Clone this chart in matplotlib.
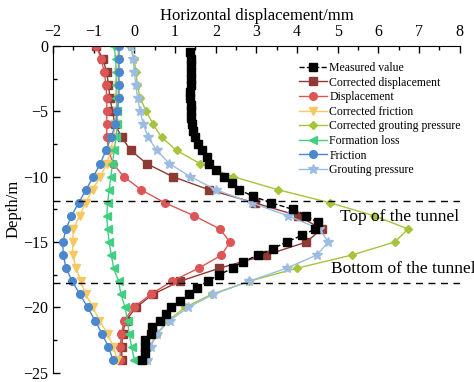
import numpy as np
import matplotlib.pyplot as plt
from matplotlib.ticker import MultipleLocator

plt.rcParams['font.family'] = ['Liberation Serif', 'DejaVu Serif']
plt.rcParams['mathtext.fontset'] = 'stix'

# measured profile, every 0.5 m
depthMeasured = np.arange(-0.5, -24.01, -0.5)
measured = [1.37, 1.39, 1.40, 1.39, 1.40, 1.39, 1.37, 1.37, 1.39, 1.40,
            1.40, 1.41, 1.44, 1.49, 1.57, 1.66, 1.79, 1.84, 2.01, 2.20,
            2.39, 2.58, 2.91, 3.37, 3.89, 4.22, 4.52, 4.45, 4.11, 3.74,
            3.41, 3.05, 2.66, 2.42, 2.08, 1.80, 1.55, 1.34, 1.12, 0.89,
            0.77, 0.63, 0.43, 0.41, 0.27, 0.25, 0.26, 0.18]

# calculated profiles, every 1 m
depth = np.arange(0, -24.01, -1)
correctedDisp = [-0.94, -0.78, -0.68, -0.64, -0.60, -0.54, -0.48, -0.31, -0.09, 0.30,
                 0.94, 1.83, 2.96, 4.03, 4.60, 4.23, 3.23, 2.09, 1.12, 0.45,
                 0.04, -0.21, -0.29, -0.31, -0.31]
displacement = [-0.94, -0.82, -0.74, -0.70, -0.68, -0.68, -0.68, -0.68, -0.63, -0.53,
                 -0.26, 0.16, 0.75, 1.47, 2.10, 2.35, 2.14, 1.58, 0.92, 0.40,
                 -0.02, -0.25, -0.32, -0.35, -0.35]
correctedFriction = [-0.40, -0.40, -0.40, -0.40, -0.41, -0.43, -0.47, -0.52, -0.58, -0.68,
                     -0.84, -1.03, -1.20, -1.35, -1.50, -1.52, -1.52, -1.43, -1.32, -1.20,
                     -1.02, -0.86, -0.66, -0.52, -0.42]
correctedGrouting = [-0.11, -0.01, 0.04, 0.07, 0.14, 0.29, 0.46, 0.67, 1.04, 1.61,
                     2.42, 3.53, 4.81, 5.90, 6.73, 6.40, 5.34, 4.00, 2.82, 1.90,
                     1.24, 0.83, 0.55, 0.38, 0.30]
formationLoss = [-0.50, -0.46, -0.45, -0.45, -0.45, -0.43, -0.42, -0.45, -0.50, -0.54,
                 -0.58, -0.62, -0.66, -0.68, -0.66, -0.62, -0.57, -0.51, -0.39, -0.33,
                 -0.23, -0.17, -0.13, -0.07, 0.00]
friction = [-0.38, -0.38, -0.38, -0.38, -0.38, -0.42, -0.47, -0.57, -0.70, -0.84,
            -1.01, -1.19, -1.37, -1.55, -1.68, -1.76, -1.75, -1.68, -1.53, -1.34,
            -1.15, -0.97, -0.80, -0.64, -0.53]
grouting = [-0.09, -0.03, 0.00, 0.03, 0.08, 0.14, 0.22, 0.34, 0.55, 0.86,
            1.37, 2.00, 2.88, 3.78, 4.55, 4.77, 4.48, 3.74, 2.82, 1.94,
            1.32, 0.87, 0.56, 0.40, 0.32]

tunnelTop = -11.85
tunnelBottom = -18.15

fig = plt.figure(figsize=(4.74, 3.82), dpi=100)
ax = fig.add_axes([0.112, 0.024, 0.858, 0.856])

ms = 5.5
ax.plot(measured, depthMeasured, '--s', color='black', ms=ms, lw=1.0, label='Measured value', zorder=10)
ax.plot(correctedDisp, depth, '-s', color='#8E3A34', ms=ms, lw=1.0, label='Corrected displacement')
ax.plot(displacement, depth, '-o', color='#DD5656', ms=ms, lw=1.0, label='Displacement')
ax.plot(correctedFriction, depth, '-v', color='#F6C862', ms=ms, lw=1.0, label='Corrected friction')
ax.plot(correctedGrouting, depth, '-D', color='#A6C43A', ms=ms - 1, lw=1.0, label='Corrected grouting pressure')
ax.plot(formationLoss, depth, '-<', color='#42CF82', ms=ms, lw=1.0, label='Formation loss')
ax.plot(friction, depth, '-o', color='#4B87CC', ms=ms, lw=1.0, label='Friction')
ax.plot(grouting, depth, '-*', color='#9CBCE2', ms=ms + 1.5, lw=1.0, label='Grouting pressure')

ax.axhline(tunnelTop, color='black', ls=(0, (5, 4)), lw=1.0)
ax.axhline(tunnelBottom, color='black', ls=(0, (5, 4)), lw=1.0)
ax.text(5.05, -13.1, 'Top of the tunnel', fontsize=12.5, va='center')
ax.text(4.83, -17.05, 'Bottom of the tunnel', fontsize=12.5, va='center')

ax.set_xlim(-2, 8)
ax.set_ylim(-25, 0)
ax.xaxis.tick_top()
ax.xaxis.set_label_position('top')
ax.set_xlabel('Horizontal displacement/mm', fontsize=12, labelpad=3)
ax.set_ylabel('Depth/m', fontsize=12, labelpad=1)
ax.xaxis.set_major_locator(MultipleLocator(1))
ax.xaxis.set_minor_locator(MultipleLocator(0.5))
ax.yaxis.set_major_locator(MultipleLocator(5))
ax.yaxis.set_minor_locator(MultipleLocator(2.5))
ax.tick_params(which='both', direction='in', labelsize=11.5)
ax.tick_params(which='major', length=5, width=1)
ax.tick_params(which='minor', length=3, width=1)
ax.tick_params(axis='x', pad=4)
ax.spines['right'].set_visible(False)
ax.spines['bottom'].set_visible(False)

ax.legend(loc='upper left', bbox_to_anchor=(0.592, 0.965), frameon=False, fontsize=8.5,
          handlelength=2.4, handletextpad=0.2, labelspacing=0.22, borderaxespad=0)

fig.savefig('out.png', dpi=100)
